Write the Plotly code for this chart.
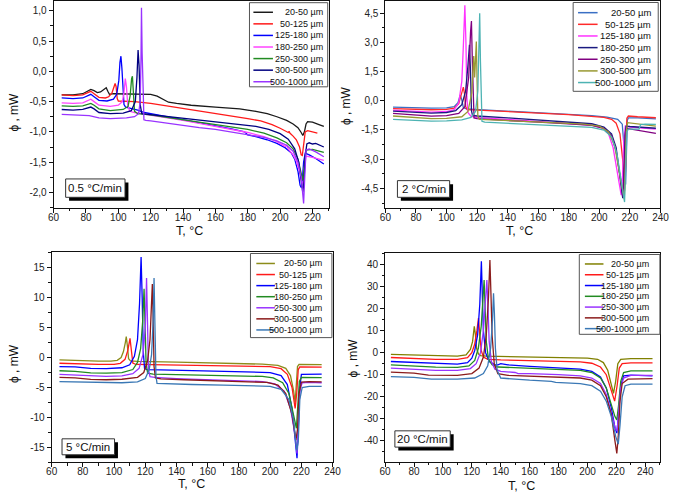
import plotly.graph_objects as go

W, H = 677, 497

# ---------------- data ----------------
SIZES = ["20-50 µm", "50-125 µm", "125-180 µm", "180-250 µm",
         "250-300 µm", "300-500 µm", "500-1000 µm"]
RATES = ["0.5 °C/min", "2 °C/min", "5 °C/min", "20 °C/min"]

# 0.5 °C/min : (T, phi) points per size fraction
CURVES_05 = [
    [(65,-0.39),(72,-0.39),(78,-0.37),(81,-0.33),(83,-0.30),(85,-0.32),(87,-0.35),(89,-0.34),(91,-0.30),(92.5,-0.27),(93.5,-0.33),(94.5,-0.38),(97,-0.37),(105,-0.37),(115,-0.37),(120,-0.38),(124,-0.41),(128,-0.47),(131,-0.51),(136,-0.53),(145,-0.56),(160,-0.59),(175,-0.62),(185,-0.66),(192,-0.70),(198,-0.75),(204,-0.81),(208,-0.87),(211,-0.93),(213,-1.01),(214,-1.06),(215,-1.00),(216,-0.87),(217,-0.83),(220,-0.84),(224,-0.88),(227,-0.91)],
    [(65,-0.39),(72,-0.40),(78,-0.39),(81,-0.36),(83,-0.33),(85,-0.37),(88,-0.43),(92,-0.44),(94,-0.42),(96,-0.36),(97,-0.28),(98,-0.20),(98.6,-0.25),(99.3,-0.45),(100,-0.49),(110,-0.50),(120,-0.53),(130,-0.57),(140,-0.61),(150,-0.65),(160,-0.70),(170,-0.74),(180,-0.78),(188,-0.82),(195,-0.88),(200,-0.94),(203,-0.99),(205,-1.01),(205.5,-0.99),(206,-1.02),(208,-1.07),(210,-1.13),(212,-1.25),(213,-1.38),(213.7,-1.39),(214.5,-1.20),(215.5,-1.00),(217,-0.98),(220,-1.00),(223,-1.02)],
    [(65,-0.44),(72,-0.45),(78,-0.44),(81,-0.41),(83,-0.38),(85,-0.42),(88,-0.48),(93,-0.49),(97,-0.46),(99,-0.38),(100.3,-0.15),(101,0.15),(101.6,0.25),(102.2,0.05),(102.8,-0.35),(103.5,-0.55),(104.5,-0.59),(108,-0.61),(112,-0.64),(116,-0.68),(120,-0.70),(130,-0.74),(140,-0.79),(150,-0.84),(160,-0.89),(170,-0.95),(178,-1.00),(180,-1.05),(185,-1.08),(192,-1.13),(198,-1.19),(203,-1.26),(207,-1.35),(209,-1.45),(211,-1.65),(212.3,-1.88),(213,-1.92),(213.7,-1.80),(214.5,-1.50),(215.5,-1.35),(218,-1.38),(222,-1.44),(227,-1.53)],
    [(65,-0.52),(72,-0.53),(78,-0.52),(81,-0.49),(83,-0.46),(85,-0.50),(88,-0.56),(95,-0.58),(100,-0.56),(102.5,-0.50),(103.5,-0.35),(104.3,-0.12),(105,-0.25),(105.8,-0.55),(107,-0.66),(110,-0.68),(115,-0.70),(120,-0.72),(130,-0.76),(140,-0.81),(150,-0.86),(160,-0.91),(170,-0.96),(180,-1.01),(190,-1.08),(198,-1.16),(203,-1.24),(204,-1.22),(205,-1.28),(208,-1.38),(210,-1.48),(212,-1.65),(213.5,-1.85),(214.3,-1.85),(215,-1.60),(216,-1.40),(220,-1.42),(227,-1.47)],
    [(65,-0.57),(72,-0.58),(78,-0.57),(81,-0.55),(83,-0.53),(85,-0.56),(88,-0.62),(95,-0.65),(103,-0.63),(106,-0.58),(107.3,-0.40),(108.2,-0.12),(108.7,-0.08),(109.3,-0.35),(110,-0.66),(112,-0.70),(120,-0.72),(130,-0.76),(140,-0.80),(150,-0.84),(160,-0.88),(170,-0.92),(180,-0.96),(190,-1.02),(198,-1.10),(204,-1.18),(208,-1.28),(211,-1.45),(213,-1.70),(214,-1.80),(215,-1.55),(216,-1.30),(220,-1.29),(227,-1.34)],
    [(65,-0.63),(72,-0.64),(78,-0.63),(81,-0.61),(83,-0.59),(85,-0.62),(88,-0.68),(95,-0.70),(103,-0.69),(108,-0.65),(110.5,-0.50),(111.5,-0.10),(112.2,0.35),(112.8,0.10),(113.5,-0.55),(114.5,-0.70),(118,-0.71),(125,-0.73),(135,-0.76),(145,-0.79),(155,-0.82),(165,-0.85),(175,-0.88),(185,-0.91),(193,-0.96),(200,-1.03),(205,-1.12),(209,-1.28),(211.5,-1.50),(213,-1.80),(214,-2.00),(214.8,-1.80),(215.5,-1.40),(216.5,-1.20),(218,-1.18),(220,-1.20),(222,-1.19),(227,-1.25)],
    [(65,-0.71),(75,-0.72),(82,-0.73),(88,-0.77),(95,-0.78),(105,-0.77),(110,-0.75),(112.5,-0.70),(113.5,-0.50),(114,0.20),(114.3,1.05),(114.7,0.30),(115,-0.28),(115.4,-0.35),(115.8,-0.80),(117,-0.81),(120,-0.82),(130,-0.86),(140,-0.89),(150,-0.93),(160,-0.96),(170,-1.00),(180,-1.04),(190,-1.09),(198,-1.15),(204,-1.22),(208,-1.32),(211,-1.50),(213,-1.75),(214.5,-2.18),(215.3,-1.70),(216,-1.30),(218,-1.28),(222,-1.33),(227,-1.41)],
]

# 2 °C/min
CURVES_2 = [
    [(65,-0.33),(80,-0.36),(90,-0.38),(100,-0.36),(105,-0.30),(107.5,-0.10),(109,0.30),(110,0.05),(111,-0.35),(113,-0.42),(120,-0.45),(140,-0.52),(160,-0.60),(180,-0.68),(195,-0.76),(205,-0.84),(212,-0.95),(215,-1.20),(216.3,-2.5),(217.2,-4.3),(217.8,-3.0),(218.3,-1.0),(219,-0.88),(225,-0.88),(237,-0.93)],
    [(65,-0.40),(80,-0.44),(90,-0.46),(100,-0.44),(105,-0.38),(108,-0.15),(110,0.40),(111,0.70),(111.7,0.40),(112.5,-0.30),(113.5,-0.45),(120,-0.48),(140,-0.55),(160,-0.63),(180,-0.71),(195,-0.78),(203,-0.85),(208,-0.95),(211,-1.15),(213.5,-1.7),(215.5,-3.2),(216.5,-4.6),(217.3,-3.2),(218,-0.9),(219,-0.78),(225,-0.82),(237,-0.87)],
    [(65,-0.48),(80,-0.55),(90,-0.58),(100,-0.55),(105,-0.45),(108,-0.10),(110,1.00),(111,2.80),(112,4.90),(112.7,3.0),(113.3,0.2),(114,-0.60),(116,-0.80),(120,-0.85),(140,-0.95),(160,-1.05),(180,-1.15),(195,-1.25),(202,-1.40),(206,-1.70),(209,-2.40),(211.5,-3.6),(213.5,-4.6),(214.3,-4.85),(215,-4.2),(216,-2.0),(217,-1.30),(220,-1.35),(237,-1.45)],
    [(65,-0.53),(80,-0.60),(90,-0.63),(100,-0.60),(106,-0.50),(110,-0.20),(112.5,0.50),(114,1.80),(115,2.88),(115.7,1.5),(116.3,-0.5),(117,-0.75),(120,-0.78),(140,-0.88),(160,-0.98),(180,-1.08),(195,-1.18),(203,-1.35),(208,-1.70),(211,-2.40),(213.5,-3.8),(215.3,-5.0),(216,-4.0),(216.8,-1.8),(217.5,-1.30),(220,-1.32),(237,-1.41)],
    [(65,-0.65),(80,-0.75),(90,-0.79),(100,-0.76),(108,-0.65),(112,-0.30),(114.5,1.20),(115.7,3.50),(116.3,4.10),(116.9,2.0),(117.5,-0.5),(118,-0.88),(120,-0.92),(140,-1.02),(160,-1.10),(180,-1.18),(195,-1.26),(203,-1.42),(208,-1.80),(211,-2.60),(214,-4.2),(215.7,-4.95),(216.4,-3.6),(217.2,-1.6),(218,-1.42),(225,-1.50),(237,-1.67)],
    [(65,-0.78),(80,-0.88),(90,-0.92),(100,-0.90),(110,-0.82),(114,-0.55),(116.5,0.40),(117.8,2.30),(118.4,1.20),(118.9,2.00),(119.5,3.05),(120,1.0),(120.5,-0.8),(121.5,-0.95),(130,-0.98),(150,-1.05),(170,-1.12),(190,-1.20),(200,-1.30),(206,-1.60),(210,-2.30),(213,-3.60),(215.5,-4.8),(216.3,-5.05),(217,-3.4),(217.7,-1.5),(218.5,-1.12),(225,-1.18),(237,-1.30)],
    [(65,-0.95),(80,-1.00),(90,-1.04),(100,-1.03),(110,-0.98),(116,-0.85),(119,-0.55),(120.5,0.50),(121.2,2.50),(121.7,4.50),(122.2,2.00),(122.7,-0.40),(123.2,-1.05),(125,-1.10),(140,-1.16),(160,-1.22),(180,-1.30),(195,-1.36),(203,-1.50),(208,-1.85),(211.5,-2.70),(214.5,-4.3),(216.5,-5.2),(217.2,-3.5),(218,-1.6),(219,-1.45),(226,-1.45),(227,-1.22),(230,-1.20),(237,-1.21)],
]

# 5 °C/min
CURVES_5 = [
    [(65,-0.40),(80,-0.55),(90,-0.60),(98,-0.58),(102,-0.45),(104.5,0.0),(106,1.0),(107.2,2.5),(107.8,3.5),(108.5,2.0),(109.3,-0.2),(110.5,-0.55),(115,-0.62),(140,-0.75),(160,-0.88),(180,-1.00),(195,-1.10),(205,-1.30),(210,-1.80),(213,-3.0),(215,-5.5),(216,-7.5),(216.8,-5.0),(217.5,-1.5),(218.5,-1.15),(225,-1.15),(233,-1.18)],
    [(65,-0.95),(80,-1.10),(90,-1.15),(100,-1.12),(104,-0.95),(107,-0.30),(108.8,1.20),(110.2,3.20),(111,1.5),(112,-0.9),(114,-1.15),(130,-1.20),(150,-1.28),(170,-1.35),(190,-1.42),(200,-1.50),(207,-1.85),(211,-2.8),(214,-5.0),(216,-8.5),(217,-6.0),(218,-2.0),(219,-1.55),(225,-1.55),(233,-1.58)],
    [(65,-1.50),(75,-1.55),(85,-1.80),(95,-1.85),(105,-1.70),(110,-1.20),(113,0.20),(115,3.0),(116.3,9.0),(117.3,16.8),(118,10.0),(118.7,1.0),(119.5,-1.8),(121,-2.0),(130,-2.05),(150,-2.15),(170,-2.25),(190,-2.35),(200,-2.50),(207,-3.0),(211,-4.5),(214,-8.5),(216,-13.5),(217.2,-16.8),(218,-12.0),(219,-5.0),(220,-2.8),(225,-2.75),(233,-2.75)],
    [(65,-2.20),(75,-2.30),(85,-2.55),(95,-2.60),(105,-2.50),(112,-2.00),(115,-0.8),(117,1.5),(118.3,6.0),(119.2,11.5),(119.8,6.0),(120.5,-1.0),(121.5,-2.6),(125,-2.75),(140,-2.85),(160,-2.95),(180,-3.05),(195,-3.15),(202,-3.40),(208,-4.2),(212,-6.0),(215,-9.5),(216.8,-11.8),(217.7,-8.0),(218.7,-4.0),(220,-3.3),(225,-3.3),(233,-3.35)],
    [(65,-2.80),(75,-2.90),(85,-3.10),(95,-3.15),(105,-3.05),(112,-2.70),(116,-1.8),(118.5,0.5),(120,5.0),(120.8,13.3),(121.4,6.0),(122,-2.0),(123,-3.2),(126,-3.30),(140,-3.50),(160,-3.70),(180,-3.85),(195,-4.00),(203,-4.40),(209,-5.6),(213,-8.5),(216,-13.0),(217.2,-16.0),(218,-11.0),(219,-5.5),(220.5,-4.2),(225,-4.15),(233,-4.2)],
    [(65,-3.30),(75,-3.40),(85,-3.65),(95,-3.70),(105,-3.62),(115,-3.30),(119,-2.50),(121.5,-0.5),(123,3.0),(124,8.0),(124.5,12.3),(125,7.0),(125.6,-1.5),(126.5,-3.4),(130,-3.55),(145,-3.70),(165,-3.85),(185,-4.00),(198,-4.15),(205,-4.6),(210,-6.0),(214,-9.5),(216.5,-13.8),(217.5,-12.0),(218.5,-6.0),(220,-4.1),(225,-4.0),(233,-4.05)],
    [(65,-4.00),(75,-4.05),(85,-4.20),(95,-4.25),(105,-4.20),(115,-4.05),(120,-3.50),(122.5,-2.0),(124,0.5),(125,6.0),(125.6,13.3),(126.2,5.0),(126.8,-3.0),(127.5,-4.3),(135,-4.40),(150,-4.50),(170,-4.60),(190,-4.70),(200,-4.80),(207,-5.3),(212,-7.0),(215,-10.5),(217,-15.5),(218,-14.0),(219,-7.0),(220.5,-5.0),(225,-4.8),(233,-4.82)],
]

# 20 °C/min
CURVES_20 = [
    [(64,-0.8),(80,-1.1),(95,-1.5),(110,-1.6),(116,-1.0),(119,1.5),(120.5,5.0),(121.7,12.0),(122.5,8.0),(123.3,2.0),(124.5,-0.5),(126,-1.3),(130,-1.6),(150,-1.9),(170,-2.1),(190,-2.3),(200,-2.5),(207,-3.0),(211,-4.5),(214,-8.0),(216.5,-14.0),(218,-18.5),(219.5,-13.0),(221,-5.0),(223,-3.0),(230,-2.7),(245,-2.7)],
    [(64,-2.2),(80,-2.6),(95,-3.0),(110,-3.0),(117,-2.3),(120,0.0),(122,4.0),(123.5,10.0),(124.6,15.7),(125.5,8.0),(126.5,1.0),(128,-2.0),(131,-3.0),(140,-3.3),(160,-3.6),(180,-3.9),(195,-4.2),(203,-4.8),(209,-6.5),(213,-10.0),(216.5,-17.0),(218.8,-22.0),(220.5,-15.0),(222,-7.0),(224,-5.0),(230,-4.6),(245,-4.6)],
    [(64,-4.0),(80,-4.5),(95,-5.0),(110,-5.2),(117,-4.5),(120,-2.5),(122,1.0),(124,8.0),(125.5,22.0),(126.6,41.5),(127.3,25.0),(128,10.0),(129.5,0.0),(132,-4.0),(136,-5.5),(138,-5.5),(140,-5.0),(145,-5.5),(160,-6.2),(180,-6.8),(195,-7.5),(203,-8.5),(209,-11.0),(213,-16.0),(216.5,-25.0),(219,-34.0),(220.3,-36.5),(221.5,-28.0),(223,-15.0),(225,-10.5),(230,-10.2),(245,-10.5)],
    [(64,-5.5),(80,-6.0),(95,-6.6),(110,-6.7),(118,-6.0),(122,-3.5),(124.5,2.0),(126.5,12.0),(127.8,28.0),(128.5,33.0),(129.2,20.0),(130,5.0),(131.5,-3.0),(134,-5.5),(138,-6.5),(160,-7.0),(180,-7.5),(195,-8.0),(203,-9.0),(209,-11.5),(213,-16.0),(216.5,-23.0),(219,-29.0),(220.3,-30.5),(221.5,-24.0),(223,-13.0),(225,-9.0),(230,-8.3),(245,-8.3)],
    [(64,-7.0),(80,-7.5),(95,-8.0),(110,-8.0),(119,-7.2),(123,-5.0),(126,0.0),(128,10.0),(129.5,25.0),(130.4,33.0),(131.2,20.0),(132,5.0),(133.5,-4.0),(136,-7.5),(140,-8.5),(150,-9.0),(152,-9.5),(160,-9.5),(180,-10.0),(195,-10.5),(203,-11.5),(209,-14.0),(213,-19.0),(216.5,-27.0),(219.3,-34.5),(220.5,-35.5),(221.7,-27.0),(223,-16.0),(225,-11.5),(230,-10.3),(245,-10.3)],
    [(64,-8.8),(80,-9.3),(90,-10.2),(110,-10.3),(120,-9.5),(125,-7.0),(128,-2.0),(130,8.0),(131.5,25.0),(132.5,42.0),(133.3,25.0),(134,8.0),(135.5,-5.0),(138,-9.5),(145,-10.3),(160,-10.6),(180,-11.0),(195,-11.5),(203,-12.5),(209,-15.0),(213,-20.0),(216.5,-28.0),(219,-40.0),(220.3,-45.7),(221.3,-38.0),(222.5,-22.0),(224,-14.0),(228,-12.0),(245,-11.8)],
    [(64,-10.9),(80,-11.2),(92,-12.0),(110,-12.0),(122,-11.5),(128,-9.5),(131,-6.0),(133,2.0),(134.3,15.0),(135,27.0),(135.6,18.0),(136.3,2.0),(137.5,-8.0),(140,-11.5),(160,-12.5),(175,-13.0),(178,-13.5),(195,-14.0),(203,-15.0),(209,-17.5),(213,-22.0),(216.5,-29.0),(219.5,-38.0),(221.3,-41.5),(222.5,-33.0),(224,-20.0),(226,-15.0),(230,-14.3),(245,-14.3)],
]

COLORS_05 = ["#1a1a1a", "#ff1a1a", "#0000ff", "#ff44ff", "#228b22", "#000080", "#9933ff"]
COLORS_2 = ["#3a6fc4", "#ff2a2a", "#ff33ff", "#1a1a80", "#800080", "#999933", "#4db3b3"]
COLORS_5 = ["#8c8c1a", "#ff1a1a", "#0000ff", "#228b22", "#9933ff", "#8b1a1a", "#3a78b5"]
COLORS_20 = ["#808000", "#ff1a1a", "#0000ff", "#228b22", "#9933ff", "#8b1c1c", "#3a78b5"]

X_TICKS_A = [60, 80, 100, 120, 140, 160, 180, 200, 220]
X_TICKS_B = [60, 80, 100, 120, 140, 160, 180, 200, 220, 240]
Y_TICKS_05 = [-2.0, -1.5, -1.0, -0.5, 0.0, 0.5, 1.0]
Y_LABELS_05 = ["-2,0", "-1,5", "-1,0", "-0,5", "0,0", "0,5", "1,0"]
Y_TICKS_2 = [-4.5, -3.0, -1.5, 0.0, 1.5, 3.0, 4.5]
Y_LABELS_2 = ["-4,5", "-3,0", "-1,5", "0,0", "1,5", "3,0", "4,5"]
Y_TICKS_5 = [-15, -10, -5, 0, 5, 10, 15]
Y_LABELS_5 = ["-15", "-10", "-5", "0", "5", "10", "15"]
Y_TICKS_20 = [-40, -30, -20, -10, 0, 10, 20, 30, 40]
Y_LABELS_20 = ["-40", "-30", "-20", "-10", "0", "10", "20", "30", "40"]

# ---------------- layout helpers ----------------
FONT = "Liberation Sans, Arial, sans-serif"


def px(x):
    return x / W


def py(y):
    return 1 - y / H


panels = [
    dict(curves=CURVES_05, colors=COLORS_05, rate=RATES[0],
         box=(48.7, 0.5, 330, 207), xr=[60, 230], yr=[-2.25, 1.153],
         xt=X_TICKS_A, yt=Y_TICKS_05, yl=Y_LABELS_05, xminor=10, yminor=0.25,
         leg=(249, 1.7, 329, 86, 11.3, 11.6, 253, 273, 326, 9),
         tag=(61, 178.3, 121.7, 196.7), xtitle=(188, 230.5), ytitle=(8, 111)),
    dict(curves=CURVES_2, colors=COLORS_2, rate=RATES[1],
         box=(388, 0.5, 669.3, 207.3), xr=[60, 240], yr=[-5.5, 5.1],
         xt=X_TICKS_B, yt=Y_TICKS_2, yl=Y_LABELS_2, xminor=10, yminor=0.75,
         leg=(580, 1.5, 667, 90.5, 11.7, 11.67, 585, 605, 662, 9.5),
         tag=(400.3, 180, 453.7, 196.7), xtitle=(525, 230.5), ytitle=(347, 105)),
    dict(curves=CURVES_5, colors=COLORS_5, rate=RATES[2],
         box=(46.7, 251.7, 334, 462.3), xr=[60, 240], yr=[-17.5, 17.6],
         xt=X_TICKS_B, yt=Y_TICKS_5, yl=Y_LABELS_5, xminor=10, yminor=2.5,
         leg=(250, 253, 333.3, 337.3, 263, 11.1, 256, 275, 325, 9),
         tag=(57.3, 438.7, 111, 454.7), xtitle=(190, 484), ytitle=(8, 363)),
    dict(curves=CURVES_20, colors=COLORS_20, rate=RATES[3],
         box=(387.7, 253, 669.3, 461.7), xr=[60, 250.5], yr=[-49.5, 45],
         xt=X_TICKS_B, yt=Y_TICKS_20, yl=Y_LABELS_20, xminor=10, yminor=5,
         leg=(586.3, 254, 668.7, 334, 263.5, 10.8, 592, 611, 660, 9),
         tag=(397.7, 430.7, 454.3, 447), xtitle=(527, 485.5), ytitle=(355, 358)),
]

fig = go.Figure()
shapes = []
annotations = []
layout_axes = {}


def frange(a, b, step):
    out = []
    v = a
    while v <= b + 1e-9:
        out.append(round(v, 6))
        v += step
    return out


for k, p in enumerate(panels):
    sfx = "" if k == 0 else str(k + 1)
    x0, y0, x1, y1 = p["box"]
    for i, pts in enumerate(p["curves"]):
        fig.add_trace(go.Scatter(
            x=[q[0] for q in pts], y=[q[1] for q in pts], mode="lines",
            name=SIZES[i], line=dict(color=p["colors"][i], width=1.3),
            xaxis="x" + sfx, yaxis="y" + sfx, showlegend=False, hoverinfo="skip"))

    common = dict(showline=True, linecolor="#111", linewidth=1, mirror=True,
                  ticks="outside", ticklen=4, tickcolor="#111", tickwidth=1,
                  showgrid=False, zeroline=False,
                  tickfont=dict(family=FONT, size=10, color="#222"))
    layout_axes["xaxis" + sfx] = dict(
        common, domain=[px(x0), px(x1)], range=p["xr"], anchor="y" + sfx,
        tickmode="array", tickvals=p["xt"], ticktext=[str(v) for v in p["xt"]],
        ticklabelstandoff=-4,
        minor=dict(tickvals=frange(p["xr"][0], p["xr"][1], p["xminor"]),
                   ticks="outside", ticklen=2.5, tickcolor="#111"))
    layout_axes["yaxis" + sfx] = dict(
        common, domain=[py(y1), py(y0)], range=p["yr"], anchor="x" + sfx,
        tickmode="array", tickvals=p["yt"], ticktext=p["yl"],
        minor=dict(tickvals=frange(p["yt"][0] - p["yminor"] * 2, p["yr"][1], p["yminor"]),
                   ticks="outside", ticklen=2.5, tickcolor="#111"))

    # legend box
    lx0, ly0, lx1, ly1, ry0, rdy, sx0, sx1, tx, fs = p["leg"]
    shapes.append(dict(type="rect", xref="paper", yref="paper",
                       x0=px(lx0), x1=px(lx1), y0=py(ly1), y1=py(ly0),
                       line=dict(color="#555", width=1), fillcolor="white", layer="above"))
    for i, name in enumerate(SIZES):
        yy = ry0 + i * rdy
        shapes.append(dict(type="line", xref="paper", yref="paper",
                           x0=px(sx0), x1=px(sx1), y0=py(yy), y1=py(yy),
                           line=dict(color=p["colors"][i], width=1.5), layer="above"))
        annotations.append(dict(text=name, xref="paper", yref="paper",
                                x=px(tx), y=py(yy), xanchor="right", yanchor="middle",
                                showarrow=False, font=dict(family=FONT, size=fs, color="#111")))

    # rate tag with shadow
    bx0, by0, bx1, by1 = p["tag"]
    shapes.append(dict(type="rect", xref="paper", yref="paper",
                       x0=px(bx0 + 3.5), x1=px(bx1 + 3.5), y0=py(by1 + 3.5), y1=py(by0 + 3.5),
                       line=dict(color="black", width=0), fillcolor="black", layer="above"))
    shapes.append(dict(type="rect", xref="paper", yref="paper",
                       x0=px(bx0), x1=px(bx1), y0=py(by1), y1=py(by0),
                       line=dict(color="#333", width=1), fillcolor="white", layer="above"))
    annotations.append(dict(text=p["rate"], xref="paper", yref="paper",
                            x=px((bx0 + bx1) / 2), y=py((by0 + by1) / 2),
                            xanchor="center", yanchor="middle", showarrow=False,
                            font=dict(family=FONT, size=11.5, color="#111")))

    # axis titles
    annotations.append(dict(text="T, °C", xref="paper", yref="paper",
                            x=px(p["xtitle"][0]), y=py(p["xtitle"][1]),
                            xanchor="center", yanchor="middle", showarrow=False,
                            font=dict(family=FONT, size=12.5, color="#111")))
    annotations.append(dict(text="ϕ , mW", xref="paper", yref="paper",
                            x=px(p["ytitle"][0]), y=py(p["ytitle"][1]),
                            xanchor="center", yanchor="middle", showarrow=False,
                            textangle=-90,
                            font=dict(family=FONT, size=12, color="#111")))

fig.update_layout(
    width=W, height=H, margin=dict(l=0, r=0, t=0, b=0),
    paper_bgcolor="white", plot_bgcolor="white",
    showlegend=False, shapes=shapes, annotations=annotations,
    **layout_axes)

fig.write_html("out.html")
